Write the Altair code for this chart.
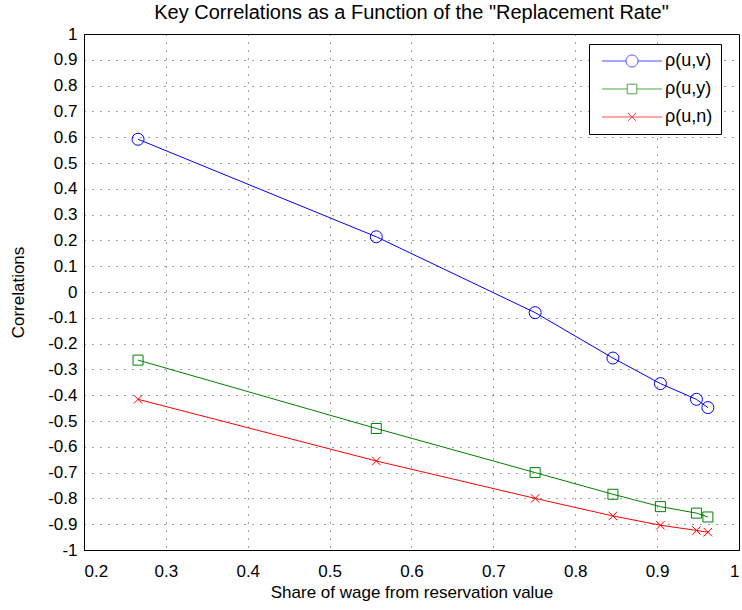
import altair as alt
import pandas as pd

# ---- data ----
share = [0.266, 0.557, 0.751, 0.846, 0.904, 0.948, 0.962]
rho_uv = [0.592, 0.214, -0.080, -0.256, -0.355, -0.416, -0.448]
rho_uy = [-0.264, -0.529, -0.700, -0.784, -0.832, -0.857, -0.872]
rho_un = [-0.416, -0.655, -0.800, -0.868, -0.904, -0.924, -0.931]

series_names = ["ρ(u,v)", "ρ(u,y)", "ρ(u,n)"]
series_colors = ["#0000ff", "#008000", "#ff0000"]
marker_shapes = [
    "circle",
    "square",
    "M-1,-1L1,1M-1,1L1,-1",
]
marker_sizes = [144, 100, 72]
legend_paths = [
    "M-5,0H-1M1,0H5M1,0A1,1,0,1,1,-1,0A1,1,0,1,1,1,0",
    "M-5,0H-0.8M0.8,0H5M-0.8,-0.8H0.8V0.8H-0.8Z",
    "M-5,0H5M-0.7,-0.7L0.7,0.7M-0.7,0.7L0.7,-0.7",
]
x_ticks = [0.2, 0.3, 0.4, 0.5, 0.6, 0.7, 0.8, 0.9, 1.0]
y_ticks = [-1.0, -0.9, -0.8, -0.7, -0.6, -0.5, -0.4, -0.3, -0.2, -0.1, 0.0,
           0.1, 0.2, 0.3, 0.4, 0.5, 0.6, 0.7, 0.8, 0.9, 1.0]

rows = []
for name, vals in zip(series_names, [rho_uv, rho_uy, rho_un]):
    for xv, yv in zip(share, vals):
        rows.append({"share": xv, "corr": yv, "series": name})
df = pd.DataFrame(rows)

FONT = "Liberation Sans"
fix_minus = "replace(datum.label, '\u2212', '-')"

x_enc = alt.X(
    "share:Q",
    scale=alt.Scale(domain=[0.2, 1.0], nice=False, zero=False),
    axis=alt.Axis(values=x_ticks, format=".1~f", labelExpr=fix_minus,
                  title="Share of wage from reservation value"),
)
y_enc = alt.Y(
    "corr:Q",
    scale=alt.Scale(domain=[-1.0, 1.0], nice=False, zero=False),
    axis=alt.Axis(values=y_ticks, format=".1~f", labelExpr=fix_minus,
                  title="Correlations"),
)


def color_scale():
    return alt.Scale(domain=series_names, range=series_colors)


base = alt.Chart(df)

lines = base.mark_line(strokeWidth=1, clip=True).encode(
    x=x_enc, y=y_enc,
    color=alt.Color("series:N", scale=color_scale(), legend=None),
    detail="series:N",
)

point_layers = []
for name, shp, sz in zip(series_names, marker_shapes, marker_sizes):
    point_layers.append(
        base.transform_filter(alt.datum.series == name)
        .mark_point(shape=shp, size=sz, filled=False, strokeWidth=1, opacity=1)
        .encode(x=x_enc, y=y_enc,
                color=alt.Color("series:N", scale=color_scale(), legend=None))
    )

legend_spec = alt.Legend(
    title=None, orient="none", legendX=505, legendY=10,
    strokeColor="black", fillColor="white", padding=8,
    symbolSize=144, symbolStrokeWidth=1, symbolOffset=26,
    labelOffset=24, rowPadding=10, labelFont=FONT, labelFontSize=18,
    labelColor="black",
)
legend_layer = base.transform_filter("false").mark_point(
    filled=False, strokeWidth=1
).encode(
    x=x_enc, y=y_enc,
    color=alt.Color("series:N", scale=color_scale(), legend=legend_spec),
    shape=alt.Shape("series:N",
                    scale=alt.Scale(domain=series_names, range=legend_paths),
                    legend=legend_spec),
)

chart = alt.layer(lines, *point_layers, legend_layer).resolve_scale(
    color="independent", shape="independent"
).properties(
    width=655, height=516,
    title=alt.TitleParams(
        'Key Correlations as a Function of the "Replacement Rate"',
        font=FONT, fontSize=20, fontWeight="normal", color="black",
        anchor="middle", offset=2,
    ),
    autosize=alt.AutoSizeParams(type="none"),
    padding={"left": 84, "top": 34, "right": 3, "bottom": 60},
    background="white",
).configure_view(
    stroke="black", strokeWidth=1,
).configure_legend(
    labelFont=FONT, labelFontSize=18, labelColor="black",
).configure_axis(
    labelFont=FONT, labelFontSize=17, labelColor="black",
    titleFont=FONT, titleFontSize=17, titleFontWeight="normal", titleColor="black",
    domainColor="black", domainWidth=1,
    ticks=False, labelPadding=7,
    grid=True, gridColor="black", gridDash=[1, 7], gridOpacity=0.75, gridWidth=1,
).configure_axisX(
    titlePadding=5, labelPadding=13,
).configure_axisY(
    titlePadding=20,
)

chart.save("out.html", embed_options={"renderer": "svg", "actions": False})
